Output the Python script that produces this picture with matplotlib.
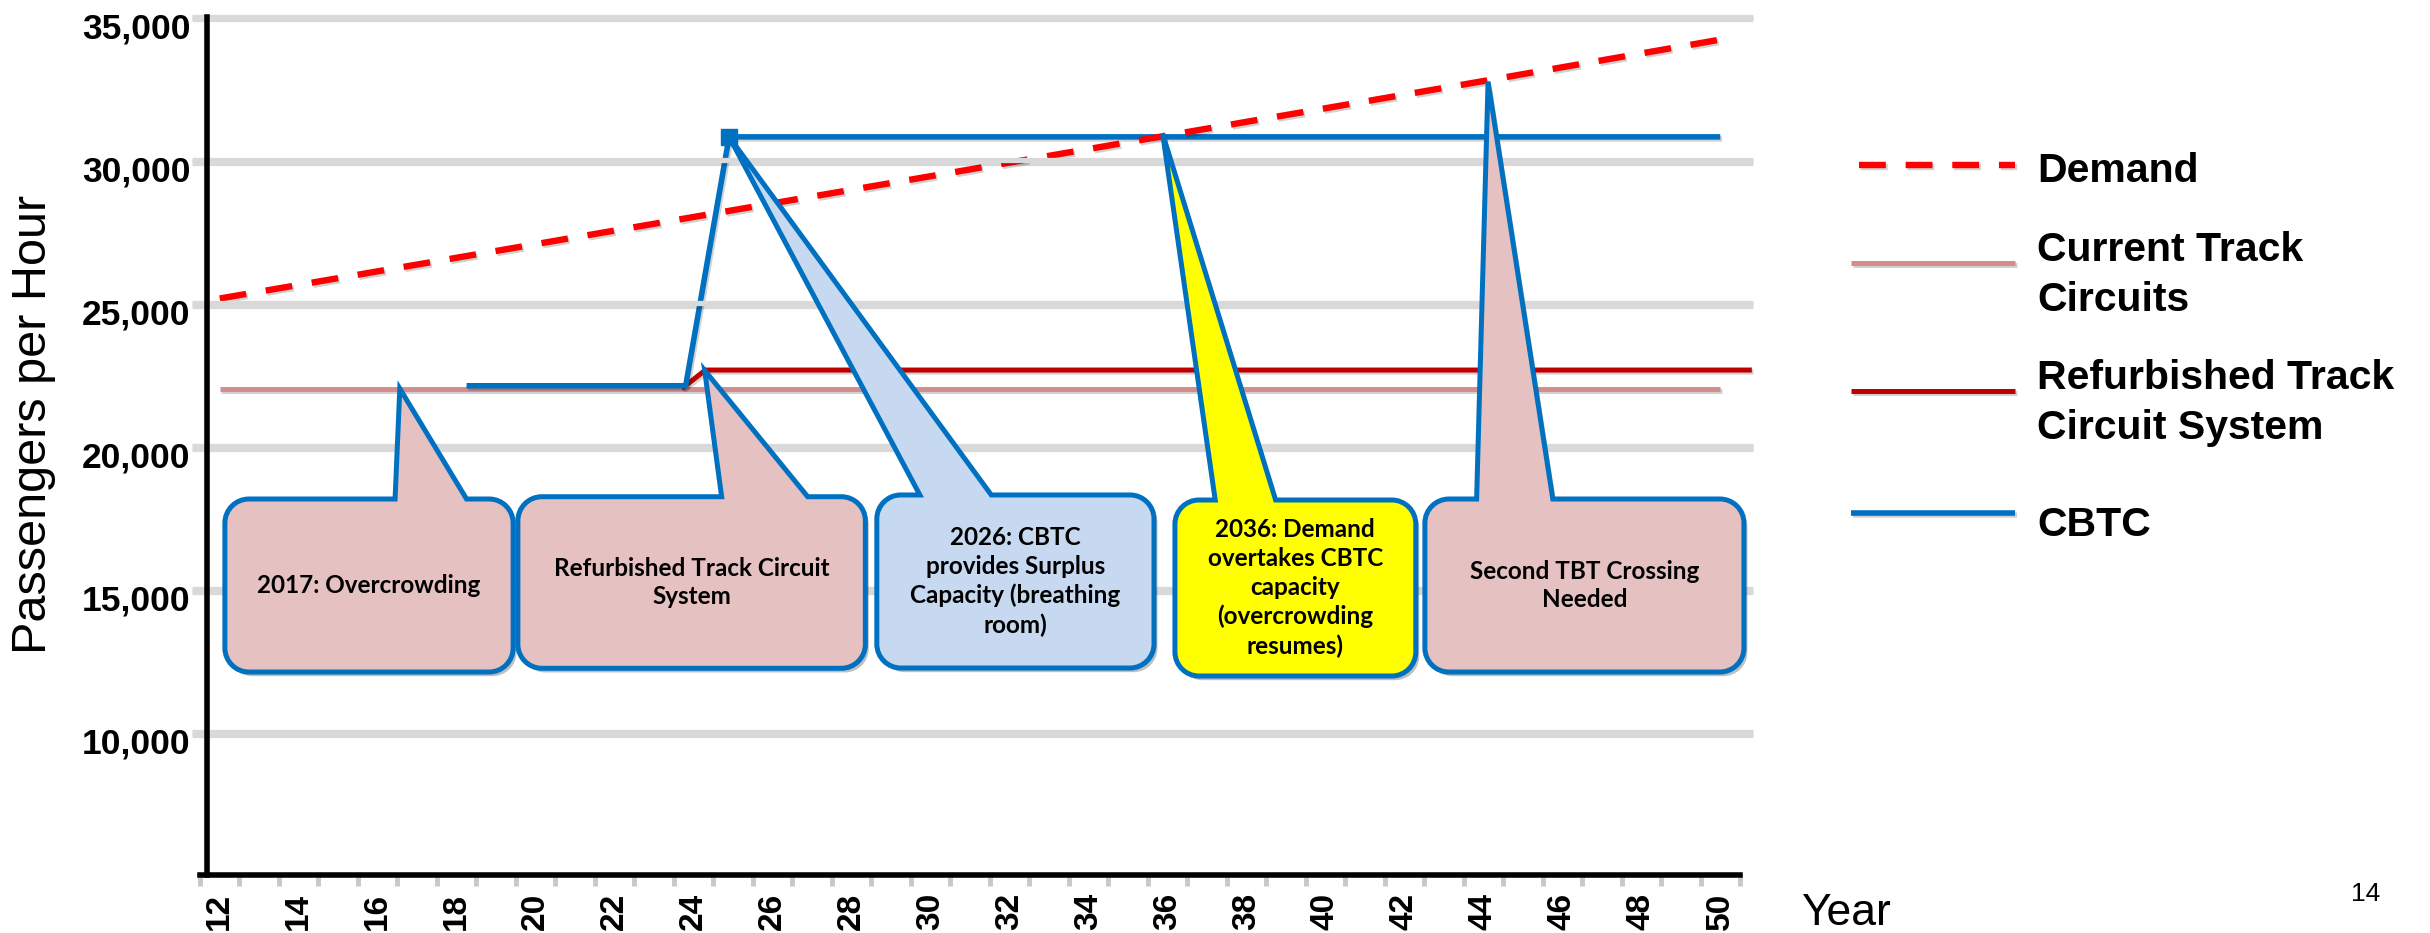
import matplotlib
matplotlib.use("Agg")
import matplotlib.pyplot as plt
from matplotlib.path import Path
from matplotlib.patches import PathPatch
import matplotlib.patheffects as pe
from matplotlib.lines import Line2D
from matplotlib.transforms import ScaledTranslation

# ---------------- data ----------------
demand_years = [12, 20, 28, 36, 44, 50]
demand = [25150, 27050, 28950, 30850, 32750, 34200]

current_years = [12, 50]
current = [22000, 22000]

refurb_years = [23.7, 24.3, 50.8]
refurb = [22000, 22650, 22650]

cbtc_years = [18.25, 23.8, 24.9, 50]
cbtc = [22100, 22100, 30800, 30800]

year_ticks = list(range(12, 51, 2))
year_labels = [str(y) for y in year_ticks]
y_ticks = [10000, 15000, 20000, 25000, 30000, 35000]

callout_texts = [
    "2017: Overcrowding",
    "Refurbished Track Circuit\nSystem",
    "2026: CBTC\nprovides Surplus\nCapacity (breathing\nroom)",
    "2036: Demand\novertakes CBTC\ncapacity\n(overcrowding\nresumes)",
    "Second TBT Crossing\nNeeded",
]
callout_tip_x = [16.56, 24.28, 24.9, 35.88, 44.12]
callout_tip_y = [22000, 22640, 30800, 30900, 32730]

legend_labels = ["Demand", "Current Track\nCircuits", "Refurbished Track\nCircuit System", "CBTC"]

# ---------------- layout / style ----------------
W, H = 2430, 933
fig = plt.figure(figsize=(W / 100, H / 100), dpi=100)
ax = fig.add_axes([200 / W, 1 - 875 / H, 1540 / W, (875 - 16.7) / H])
ax.set_xlim(11.5, 50.5)
ax.set_ylim(5000, 35000)

BLUE = "#0070c0"
RED = "#ff0000"
DARKRED = "#c00000"
PINKLINE = "#d58c8c"
line_shadow = [pe.SimpleLineShadow(offset=(1.2, -1.5), shadow_color="k", alpha=0.18), pe.Normal()]

# callout boxes (layout): x0, x1, y0, y1, base_left, base_right, fill
callout_boxes = [
    (12.13, 19.43, 12095, 18142, 16.44, 18.25, "#e6c1c1"),
    (19.55, 28.35, 12225, 18222, 24.71, 26.89, "#e6c1c1"),
    (28.64, 35.66, 12235, 18283, 29.73, 31.54, "#c6d9f0"),
    (36.19, 42.29, 11955, 18107, 37.21, 38.74, "#ffff00"),
    (42.52, 50.60, 12095, 18142, 43.83, 45.76, "#e6c1c1"),
]

# series
ax.plot(current_years, current, color=PINKLINE, lw=3.6, solid_capstyle="butt", zorder=2,
        path_effects=line_shadow, clip_on=False)
ax.plot(refurb_years, refurb, color=DARKRED, lw=3.6, solid_capstyle="butt", zorder=2.1,
        path_effects=line_shadow, clip_on=False)
ax.plot(cbtc_years, cbtc, color=BLUE, lw=4.0, solid_capstyle="butt", zorder=2.2,
        path_effects=line_shadow, clip_on=False)
ax.plot(demand_years, demand, color=RED, lw=4.6, dashes=(4.2, 3.1), dash_capstyle="butt",
        zorder=2.5, path_effects=line_shadow, clip_on=False)

# gridlines
for v in y_ticks:
    ax.plot([11.3, 50.83], [v, v], color="#d9d9d9", lw=3.8, solid_capstyle="butt", zorder=3,
            clip_on=False,
            path_effects=[pe.SimpleLineShadow(offset=(0, -2), shadow_color="k", alpha=0.15), pe.Normal()])

# callouts
fig.canvas.draw()
pxx = (ax.transData.transform((12, 0))[0] - ax.transData.transform((11, 0))[0])
pxy = (ax.transData.transform((0, 6000))[1] - ax.transData.transform((0, 5000))[1]) / 1000.0
r_px = 24
rx, ry = r_px / pxx, r_px / pxy
k = 0.5523


def callout_path(x0, x1, y0, y1, b0, b1, tx, ty):
    verts = [(x0 + rx, y1), (b0, y1), (tx, ty), (b1, y1), (x1 - rx, y1),
             (x1 - rx + k * rx, y1), (x1, y1 - ry + k * ry), (x1, y1 - ry),
             (x1, y0 + ry),
             (x1, y0 + ry - k * ry), (x1 - rx + k * rx, y0), (x1 - rx, y0),
             (x0 + rx, y0),
             (x0 + rx - k * rx, y0), (x0, y0 + ry - k * ry), (x0, y0 + ry),
             (x0, y1 - ry),
             (x0, y1 - ry + k * ry), (x0 + rx - k * rx, y1), (x0 + rx, y1),
             (x0 + rx, y1)]
    codes = [Path.MOVETO, Path.LINETO, Path.LINETO, Path.LINETO, Path.LINETO,
             Path.CURVE4, Path.CURVE4, Path.CURVE4,
             Path.LINETO,
             Path.CURVE4, Path.CURVE4, Path.CURVE4,
             Path.LINETO,
             Path.CURVE4, Path.CURVE4, Path.CURVE4,
             Path.LINETO,
             Path.CURVE4, Path.CURVE4, Path.CURVE4,
             Path.CLOSEPOLY]
    return Path(verts, codes)


for (x0, x1, y0, y1, b0, b1, fc), txt, tx, ty in zip(callout_boxes, callout_texts,
                                                       callout_tip_x, callout_tip_y):
    p = PathPatch(callout_path(x0, x1, y0, y1, b0, b1, tx, ty), facecolor=fc, edgecolor=BLUE,
                  lw=3.6, joinstyle="miter", zorder=5, clip_on=False,
                  path_effects=[pe.withSimplePatchShadow(offset=(2.5, -3), shadow_rgbFace="k", alpha=0.25)])
    ax.add_patch(p)
    ax.text((x0 + x1) / 2, (y0 + y1) / 2, txt, ha="center", va="center", fontsize=17.5,
            fontfamily="Lato", fontweight="bold", linespacing=1.3, zorder=6, color="black")

# CBTC marker at the upgrade point
ax.plot([cbtc_years[2]], [cbtc[2]], marker="s", ms=12, color=BLUE, zorder=7, clip_on=False)

# axes styling
for s in ["top", "right"]:
    ax.spines[s].set_visible(False)
for s in ["left", "bottom"]:
    ax.spines[s].set_color("black")
    ax.spines[s].set_linewidth(4)
    ax.spines[s].set_zorder(4)
ax.spines["left"].set_position(("axes", 7 / 1540))

ax.set_yticks(y_ticks)
ax.set_yticklabels([f"{v:,}" for v in y_ticks], fontsize=25.5, fontweight="bold",
                   fontfamily="Liberation Sans")
ax.tick_params(axis="y", length=0, pad=12)
off = ScaledTranslation(0, -9 / 100, fig.dpi_scale_trans)
for lab in ax.get_yticklabels():
    lab.set_transform(lab.get_transform() + off)

ax.set_xticks(year_ticks)
ax.set_xticklabels(year_labels, rotation=90, fontsize=24, fontweight="bold",
                   fontfamily="Liberation Sans", va="top")
ax.set_xticks([y + 0.5 for y in range(11, 51)], minor=True)
ax.tick_params(axis="x", which="major", length=0, pad=13)
ax.tick_params(axis="x", which="minor", length=8, width=3.5, color="#c8c8c8", direction="out")

# axis titles and page number
fig.text(34 / W, 1 - 424.5 / H, "Passengers per Hour", rotation=90, ha="center", va="center",
         fontsize=35, fontfamily="Liberation Sans")
fig.text(1801 / W, 1 - 925 / H, "Year", ha="left", va="baseline", fontsize=32,
         fontfamily="Liberation Sans")
fig.text(2366 / W, 1 - 900.7 / H, "14", ha="center", va="baseline", fontsize=19,
         fontfamily="Liberation Sans")

# legend (manual)
leg_y = [165, 263, 391, 513]
leg_ty = [171, 275, 403, 525]
leg_styles = [
    dict(color=RED, lw=4.6, dashes=(4.2, 3.1), dash_capstyle="butt"),
    dict(color=PINKLINE, lw=3.6, solid_capstyle="butt"),
    dict(color=DARKRED, lw=3.6, solid_capstyle="butt"),
    dict(color=BLUE, lw=4.0, solid_capstyle="butt"),
]
for ly, ty, lab, st in zip(leg_y, leg_ty, legend_labels, leg_styles):
    x0 = 1859 if lab == "Demand" else 1851
    fig.add_artist(Line2D([x0 / W, 2015 / W], [1 - ly / H, 1 - ly / H], transform=fig.transFigure,
                          path_effects=line_shadow, **st))
    fig.text(2037 / W, 1 - ty / H, lab, ha="left", va="center", fontsize=29.5, fontweight="bold",
             fontfamily="Liberation Sans", linespacing=1.42)

fig.savefig("out.png", dpi=100, facecolor="white")
